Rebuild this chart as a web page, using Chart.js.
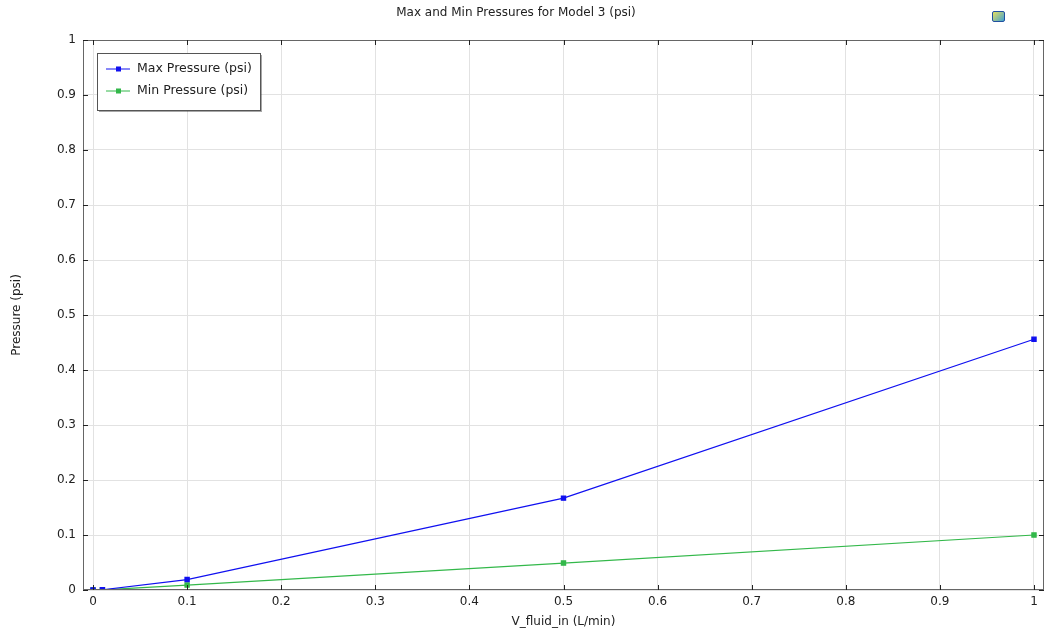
<!DOCTYPE html>
<html>
<head>
<meta charset="utf-8">
<script src="https://cdn.jsdelivr.net/npm/chart.js@4"></script>
<style>
  html, body { margin: 0; padding: 0; background: #fff; }
  #wrap { position: relative; width: 1044px; height: 631px; }
  #icon { position: absolute; left: 992px; top: 11px; width: 11px; height: 9px;
          background: linear-gradient(135deg, #e8e060, #40a0d0); border: 1px solid #2050a0; border-radius: 2px; }
</style>
</head>
<body>
<div id="wrap">
  <canvas id="chart" width="1044" height="631"></canvas>
  <div id="icon"></div>
</div>
<script>
const flowRates = [0, 0.01, 0.1, 0.5, 1];
const maxPressure = [0.0002, 0.0005, 0.019, 0.167, 0.456];
const minPressure = [0.0001, 0.0002, 0.009, 0.049, 0.1];
const xTicks = [0, 0.1, 0.2, 0.3, 0.4, 0.5, 0.6, 0.7, 0.8, 0.9, 1];
const yTicks = [0, 0.1, 0.2, 0.3, 0.4, 0.5, 0.6, 0.7, 0.8, 0.9, 1];

const FONT = "'DejaVu Sans', sans-serif";
const TEXT = "#222";
const PLOT_RIGHT = 1044;

// stretch the plot box to the right edge (Chart.js reserves room for the last tick label)
const stretchPlugin = {
    id: "stretch",
    afterLayout(chart) {
        const a = chart.chartArea;
        a.right = PLOT_RIGHT;
        a.width = a.right - a.left;
        const x = chart.scales.x;
        x.right = PLOT_RIGHT;
        x.width = x.right - x.left;
        x.configure();
    },
};

const framePlugin = {
    id: "frame",
    afterDraw(chart) {
        const { ctx, chartArea: a, scales } = chart;
        ctx.save();
        // frame
        ctx.strokeStyle = "#666";
        ctx.lineWidth = 1;
        ctx.strokeRect(a.left + 0.5, a.top + 0.5, a.right - a.left - 1, a.bottom - a.top - 1);
        // inward ticks
        ctx.strokeStyle = "#222";
        ctx.beginPath();
        xTicks.forEach((v) => {
            const x = Math.round(scales.x.getPixelForValue(v)) + 0.5;
            ctx.moveTo(x, a.bottom); ctx.lineTo(x, a.bottom - 5);
            ctx.moveTo(x, a.top); ctx.lineTo(x, a.top + 5);
        });
        yTicks.forEach((v) => {
            const y = Math.round(scales.y.getPixelForValue(v)) + 0.5;
            ctx.moveTo(a.left, y); ctx.lineTo(a.left + 5, y);
            ctx.moveTo(a.right, y); ctx.lineTo(a.right - 5, y);
        });
        ctx.stroke();
        // title
        ctx.fillStyle = TEXT;
        ctx.font = "12px " + FONT;
        ctx.textAlign = "center";
        ctx.textBaseline = "middle";
        ctx.fillText("Max and Min Pressures for Model 3 (psi)", 516, 13);
        // legend
        const lx = 97, ly = 53, lw = 163, lh = 57;
        ctx.fillStyle = "rgba(0,0,0,0.35)";
        ctx.fillRect(lx + 2, ly + 2, lw, lh);
        ctx.fillStyle = "#fff";
        ctx.fillRect(lx, ly, lw, lh);
        ctx.strokeStyle = "#555";
        ctx.strokeRect(lx + 0.5, ly + 0.5, lw, lh);
        ctx.textAlign = "left";
        ctx.font = "12.5px " + FONT;
        chart.data.datasets.forEach((ds, i) => {
            const y = ly + 16 + i * 22;
            ctx.strokeStyle = ds.borderColor;
            ctx.beginPath();
            ctx.moveTo(lx + 9, y); ctx.lineTo(lx + 33, y);
            ctx.stroke();
            ctx.fillStyle = ds.borderColor;
            ctx.fillRect(lx + 19, y - 2.5, 5, 5);
            ctx.fillStyle = TEXT;
            ctx.fillText(ds.label, lx + 40, y);
        });
        ctx.restore();
    },
};

new Chart(document.getElementById("chart"), {
    type: "line",
    data: {
        datasets: [
            {
                label: "Max Pressure (psi)",
                data: flowRates.map((x, i) => ({ x, y: maxPressure[i] })),
                borderColor: "#1010f0",
                backgroundColor: "#1010f0",
                borderWidth: 1.2,
                pointStyle: "rect",
                pointRadius: 3,
            },
            {
                label: "Min Pressure (psi)",
                data: flowRates.map((x, i) => ({ x, y: minPressure[i] })),
                borderColor: "#33b84a",
                backgroundColor: "#33b84a",
                borderWidth: 1.2,
                pointStyle: "rect",
                pointRadius: 3,
            },
        ],
    },
    options: {
        responsive: false,
        animation: false,
        layout: { padding: { top: 40, right: 1, left: 0, bottom: 0 } },
        plugins: {
            legend: { display: false },
            title: { display: false },
            tooltip: { enabled: false },
        },
        scales: {
            x: {
                type: "linear",
                min: -0.01063,
                max: 1.01063,
                afterBuildTicks: (s) => { s.ticks = xTicks.map((v) => ({ value: v })); },
                afterFit: (s) => { s.height = 41; },
                grid: { color: "#e2e2e2", drawTicks: false },
                border: { display: false },
                ticks: { color: TEXT, font: { family: FONT, size: 12 }, padding: 5, callback: (v) => String(v) },
                title: { display: true, text: "V_fluid_in (L/min)", color: TEXT, font: { family: FONT, size: 12 }, padding: { top: 0, bottom: 2 } },
            },
            y: {
                min: 0,
                max: 1,
                afterBuildTicks: (s) => { s.ticks = yTicks.map((v) => ({ value: v })); },
                afterFit: (s) => { s.width = 83; },
                grid: { color: "#e2e2e2", drawTicks: false },
                border: { display: false },
                ticks: { color: TEXT, font: { family: FONT, size: 12 }, padding: 7, callback: (v) => String(v) },
                title: { display: true, text: "Pressure (psi)", color: TEXT, font: { family: FONT, size: 12 }, padding: { top: 10, bottom: 0 } },
            },
        },
    },
    plugins: [stretchPlugin, framePlugin],
});
</script>
</body>
</html>
